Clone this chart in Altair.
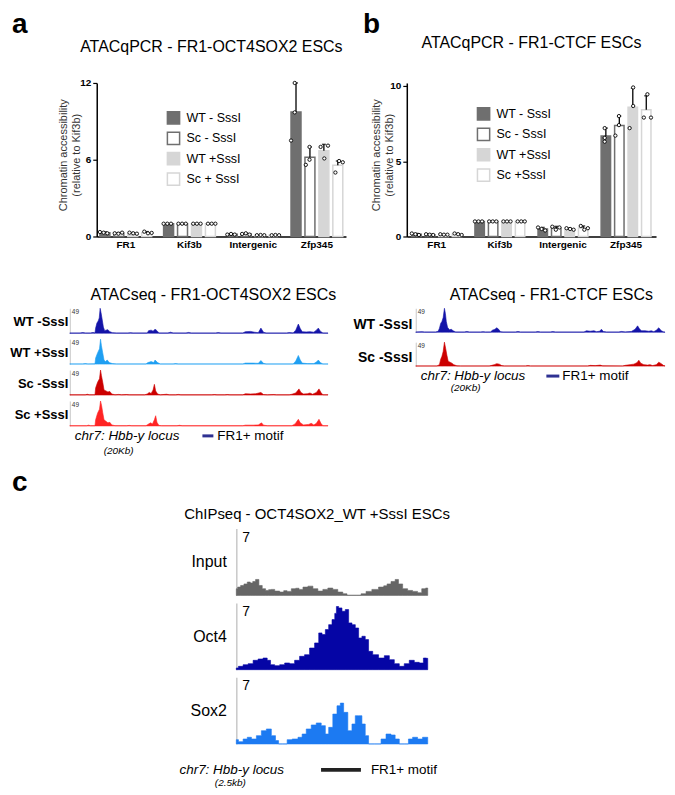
import altair as alt
import pandas as pd

FONT = "Liberation Sans"

# ---------------- ATAC-qPCR (panels a, b) ----------------
groups = ["FR1", "Kif3b", "Intergenic", "Zfp345"]
conds_a = ["WT - SssI", "Sc - SssI", "WT +SssI", "Sc + SssI"]
conds_b = ["WT - SssI", "Sc - SssI", "WT +SssI", "Sc +SssI"]
fill_range = ["#6f6f6f", "#ffffff", "#d6d6d6", "#ffffff"]
stroke_range = ["#6f6f6f", "#6f6f6f", "#d6d6d6", "#d6d6d6"]

mean_a = [[0.30, 0.26, 0.26, 0.30], [1.0, 1.0, 1.0, 1.0],
          [0.17, 0.20, 0.11, 0.11], [9.73, 6.20, 6.70, 5.57]]
upper_a = [[0.36, 0.30, 0.30, 0.38], [1.0, 1.0, 1.0, 1.0],
           [0.20, 0.25, 0.12, 0.12], [12.0, 7.0, 7.2, 5.9]]
reps_a = [[[0.35, 0.30, 0.25], [0.25, 0.22, 0.30], [0.30, 0.25, 0.22], [0.38, 0.25, 0.28]],
          [[1, 1, 1], [1, 1, 1], [1, 1, 1], [1, 1, 1]],
          [[0.15, 0.20, 0.15], [0.20, 0.25, 0.15], [0.10, 0.12, 0.10], [0.10, 0.12, 0.10]],
          [[12.0, 9.7, 7.5], [7.0, 6.0, 5.6], [7.0, 7.1, 6.1], [5.9, 5.8, 5.0]]]
slots_a = [[[0, 1, 2]] * 4, [[0, 1, 2]] * 4, [[0, 1, 2]] * 4,
           [[1, 1, 0], [1, 1, 0], [0, 2, 1], [1, 2, 0]]]

mean_b = [[0.15, 0.12, 0.13, 0.15], [1.0, 1.0, 1.0, 1.0],
          [0.50, 0.57, 0.50, 0.57], [6.67, 7.37, 8.59, 8.42]]
upper_b = [[0.20, 0.15, 0.15, 0.20], [1.0, 1.0, 1.0, 1.0],
           [0.60, 0.67, 0.55, 0.70], [7.2, 8.0, 9.85, 9.35]]
reps_b = [[[0.20, 0.15, 0.10], [0.15, 0.12, 0.10], [0.15, 0.12, 0.12], [0.20, 0.15, 0.10]],
          [[1, 1, 1], [1, 1, 1], [1, 1, 1], [1, 1, 1]],
          [[0.60, 0.50, 0.40], [0.65, 0.45, 0.60], [0.55, 0.50, 0.45], [0.70, 0.45, 0.55]],
          [[7.2, 6.55, 6.3], [8.0, 7.4, 6.7], [9.9, 8.67, 7.2], [9.45, 7.9, 7.9]]]
slots_b = [[[0, 1, 2]] * 4, [[0, 1, 2]] * 4, [[0, 1, 2]] * 4,
           [[1, 1, 1], [1, 1, 0], [1, 1, 0], [1, 0, 2]]]

# ---------------- ATAC-seq tracks: (position kb, signal) ----------------
atac_a_wt_minus = [(0, 0.4), (0.8, 0.4), (1.0, 1.2), (1.2, 0.4), (1.6, 0.4), (1.8, 1.5), (1.95, 0.5), (2.0, 10), (2.1, 20),
                   (2.2, 24), (2.28, 30), (2.35, 49), (2.42, 40), (2.5, 28), (2.6, 12), (2.7, 5), (2.8, 6), (2.95, 7),
                   (3.1, 3), (3.3, 1), (3.6, 0.4), (4.5, 0.4), (4.7, 1), (4.9, 0.4), (6.0, 0.5), (6.1, 5), (6.3, 6),
                   (6.45, 4), (6.6, 8), (6.75, 5), (6.9, 0.5), (7.6, 0.5), (7.8, 2), (8.0, 0.5), (9.0, 0.4), (9.2, 1.5),
                   (9.4, 0.4), (11.3, 0.4), (11.5, 1.2), (11.7, 0.4), (13.4, 0.4), (13.6, 3), (14.0, 3.5), (14.3, 2),
                   (14.6, 1), (14.8, 10), (15.0, 2), (15.2, 0.4), (16.8, 0.4), (17.0, 1.2), (17.3, 0.6), (17.5, 6),
                   (17.7, 18), (17.85, 9), (18.0, 3), (18.3, 2.5), (18.6, 3), (18.9, 2), (19.1, 6), (19.25, 10),
                   (19.4, 4), (19.6, 0.5), (20, 0.4)]
atac_a_wt_plus = [(0, 0.4), (1.0, 0.4), (1.2, 1), (1.4, 0.4), (1.95, 0.5), (2.0, 12), (2.15, 22), (2.3, 30), (2.38, 49),
                  (2.45, 36), (2.55, 22), (2.65, 8), (2.75, 5), (2.9, 8), (3.05, 3), (3.3, 1), (3.6, 0.4), (5.9, 0.4),
                  (6.05, 3), (6.3, 5), (6.5, 3), (6.6, 8), (6.8, 3), (7.0, 0.4), (8.0, 0.4), (8.2, 1), (8.4, 0.4),
                  (13.4, 0.4), (13.6, 2), (14.2, 2), (14.6, 1.5), (14.8, 7), (15.0, 1.5), (15.2, 0.4), (17.3, 0.4),
                  (17.5, 6), (17.7, 17), (17.85, 8), (18.0, 2), (18.4, 1), (18.9, 1), (19.1, 4), (19.25, 8), (19.4, 3),
                  (19.6, 0.4), (20, 0.4)]
atac_a_sc_minus = [(0, 0.4), (1.2, 0.4), (1.35, 1.5), (1.5, 0.4), (1.95, 0.5), (2.0, 14), (2.15, 25), (2.3, 32),
                   (2.38, 49), (2.45, 38), (2.55, 25), (2.65, 10), (2.8, 8), (2.95, 6), (3.1, 7), (3.25, 2), (3.5, 0.5),
                   (3.8, 1.2), (4.0, 0.4), (4.4, 1), (4.6, 0.4), (5.8, 0.4), (6.0, 2), (6.15, 5), (6.3, 3), (6.45, 10),
                   (6.55, 21), (6.65, 8), (6.8, 2), (7.0, 0.4), (7.5, 1.5), (7.7, 0.4), (8.2, 0.4), (8.4, 1.2),
                   (8.6, 0.4), (11.0, 0.4), (11.2, 1), (11.4, 0.4), (12.0, 0.4), (12.2, 1), (12.4, 0.4), (13.4, 0.4),
                   (13.6, 2.5), (14.0, 2), (14.4, 2.5), (14.8, 5), (15.0, 1), (15.3, 0.4), (15.8, 1), (16.0, 0.4),
                   (17.0, 0.4), (17.2, 1.5), (17.5, 4), (17.75, 12), (17.9, 5), (18.1, 2), (18.4, 2.5), (18.6, 4),
                   (18.8, 1.5), (19.1, 5), (19.3, 12), (19.45, 5), (19.6, 0.5), (20, 0.4)]
atac_a_sc_plus = [(0, 0.4), (1.3, 0.4), (1.45, 1.5), (1.6, 0.4), (1.95, 0.5), (2.0, 12), (2.15, 25), (2.3, 33),
                  (2.38, 49), (2.46, 40), (2.55, 26), (2.65, 12), (2.8, 9), (2.95, 6), (3.1, 7), (3.25, 2), (3.5, 0.5),
                  (4.4, 0.4), (4.6, 1), (4.8, 0.4), (5.9, 0.4), (6.05, 3), (6.25, 6), (6.4, 4), (6.55, 12), (6.65, 20),
                  (6.75, 7), (6.9, 1), (7.1, 0.4), (8.3, 0.4), (8.5, 1.2), (8.7, 0.4), (13.4, 0.4), (13.6, 1.5),
                  (14.2, 1.5), (14.6, 2), (14.85, 6), (15.0, 1.5), (15.3, 0.4), (17.2, 0.4), (17.45, 4), (17.7, 13),
                  (17.85, 6), (18.1, 2), (18.5, 3), (18.7, 5), (18.9, 2), (19.1, 5), (19.3, 13), (19.45, 5),
                  (19.6, 0.5), (20, 0.4)]
atac_b_wt_minus = [(0, 0.4), (0.5, 1), (0.7, 0.4), (1.6, 0.4), (1.8, 2), (1.9, 8), (2.0, 18), (2.1, 22), (2.2, 30),
                   (2.3, 49), (2.38, 38), (2.45, 22), (2.55, 10), (2.7, 5), (2.85, 6), (3.0, 3), (3.2, 0.5), (3.9, 0.4),
                   (4.1, 1.5), (4.3, 0.4), (5.2, 0.4), (5.4, 1), (5.6, 0.4), (6.0, 0.5), (6.15, 4), (6.35, 6), (6.5, 9),
                   (6.65, 6), (6.8, 1), (7.0, 0.4), (8.0, 0.4), (8.2, 1.5), (8.4, 0.4), (9.6, 0.4), (9.8, 1.2),
                   (10.0, 0.4), (10.8, 0.4), (11.0, 1.2), (11.2, 0.4), (13.5, 0.4), (13.7, 3), (14.0, 2), (14.3, 3),
                   (14.5, 1), (14.75, 2), (14.9, 6), (15.05, 1.5), (15.3, 0.4), (16.3, 0.4), (16.5, 1.5), (16.8, 0.6),
                   (17.3, 1.5), (17.6, 6), (17.8, 13), (17.95, 7), (18.1, 3), (18.4, 3), (18.7, 2), (18.9, 3),
                   (19.1, 1), (19.3, 4), (19.5, 9), (19.7, 3), (19.9, 0.5), (20, 0.4)]
atac_b_sc_minus = [(0, 0.4), (1.7, 0.4), (1.9, 3), (2.0, 14), (2.1, 20), (2.2, 30), (2.3, 49), (2.4, 36), (2.5, 22),
                   (2.6, 10), (2.75, 8), (2.9, 6), (3.05, 3), (3.3, 0.5), (3.6, 0.4), (5.9, 0.4), (6.1, 1.5), (6.3, 3),
                   (6.5, 5), (6.7, 4), (6.9, 1), (7.1, 0.4), (8.8, 0.4), (9.0, 1), (9.2, 0.4), (13.8, 0.4), (14.0, 1.5),
                   (14.4, 1), (14.8, 2), (15.0, 0.5), (16.6, 0.4), (16.8, 1.5), (17.2, 3), (17.5, 4), (17.75, 7),
                   (17.9, 12), (18.05, 6), (18.3, 3), (18.6, 2), (18.8, 3), (19.0, 1), (19.3, 3), (19.5, 8), (19.7, 5),
                   (19.9, 1), (20, 0.5)]

# ---------------- ChIP-seq tracks: (position bp, coverage) ----------------
chip_input = [(0, 0.7), (35, 0.87), (78, 1.04), (122, 1.2), (165, 1.4), (200, 1.3), (230, 1.46), (273, 1.67),
              (317, 1.04), (360, 0.7), (404, 0.52), (440, 0.6), (469, 0.63), (534, 0.45), (599, 0.35), (640, 0.5),
              (686, 0.42), (751, 0.7), (800, 0.75), (838, 0.63), (903, 0.87), (968, 0.97), (1033, 0.7), (1098, 0.45),
              (1163, 0.63), (1228, 0.77), (1293, 0.63), (1358, 0.35), (1424, 0.17), (1467, 0.02), (1532, 0.02),
              (1597, 0.02), (1662, 0.17), (1727, 0.42), (1814, 0.63), (1901, 0.87), (1950, 1.0), (1988, 1.2),
              (2053, 1.46), (2096, 1.67), (2140, 1.2), (2205, 0.7), (2270, 0.52), (2335, 0.42), (2400, 0.28),
              (2444, 0.7), (2500, 0.77)]
chip_oct4 = [(0, 0.18), (56, 0.35), (122, 0.52), (187, 0.63), (252, 0.98), (317, 1.12), (382, 1.22), (425, 0.98),
             (469, 0.52), (534, 0.42), (599, 0.52), (664, 0.7), (729, 0.63), (794, 0.98), (859, 1.4), (924, 1.57),
             (990, 2.27), (1055, 2.8), (1098, 3.85), (1141, 3.68), (1185, 4.2), (1228, 4.72), (1272, 5.25),
             (1300, 5.9), (1315, 6.62), (1358, 6.47), (1402, 6.12), (1445, 6.3), (1489, 4.9), (1532, 4.72),
             (1576, 4.37), (1619, 3.32), (1662, 3.5), (1706, 3.15), (1749, 1.92), (1814, 1.57), (1901, 1.22),
             (1966, 1.47), (2031, 1.05), (2096, 0.63), (2161, 0.35), (2226, 0.63), (2292, 0.98), (2357, 0.77),
             (2422, 0.7), (2465, 1.22), (2500, 1.19)]
chip_sox2 = [(0, 0.45), (56, 0.24), (122, 0.52), (165, 0.7), (230, 0.52), (295, 0.87), (360, 1.39), (425, 1.57),
             (490, 0.87), (534, 0.35), (570, 0.0), (642, 0.0), (686, 0.45), (773, 0.52), (838, 0.7), (881, 1.04),
             (946, 1.57), (1011, 1.99), (1077, 2.2), (1141, 1.92), (1185, 1.04), (1228, 1.74), (1293, 3.13),
             (1337, 4.0), (1380, 4.28), (1424, 3.31), (1489, 1.39), (1532, 2.09), (1576, 2.96), (1619, 2.96),
             (1662, 2.09), (1706, 0.87), (1749, 0.0), (1858, 0.0), (1923, 0.52), (1988, 1.04), (2053, 0.94),
             (2096, 0.52), (2161, 0.0), (2226, 0.0), (2270, 0.52), (2335, 0.7), (2400, 0.52), (2465, 0.7),
             (2500, 0.7)]

one = pd.DataFrame({"k": [0]})


def txt(s, x, y, size, weight="normal", style="normal", align="left", baseline="middle", color="black"):
    return alt.Chart(one).mark_text(text=s, fontSize=size, fontWeight=weight, fontStyle=style, align=align,
                                    baseline=baseline, color=color, font=FONT).encode(
        x=alt.value(x), y=alt.value(y))


def key_bar(x1, x2, y, color, w):
    return alt.Chart(one).mark_rule(color=color, strokeWidth=w).encode(
        x=alt.value(x1), x2=alt.value(x2), y=alt.value(y))


def spacer():
    # invisible 1px view: anchors the column origin so each row can be offset on its own
    return alt.Chart(one).mark_rule(strokeWidth=0, opacity=0).encode(
        x=alt.value(0), x2=alt.value(0), y=alt.value(0), y2=alt.value(0)).properties(width=1, height=1)


def bar_panel(conds, means, uppers, reps, slots, ymax, yticks, width, height, pad_inner, pad_outer, bar_pad,
              legend_y, ytitle_x, ytitle_y, extras):
    rows_b, rows_e, rows_p = [], [], []
    for gi, g in enumerate(groups):
        for ci, c in enumerate(conds):
            rows_b.append({"group": g, "cond": c, "mean": means[gi][ci]})
            if uppers[gi][ci] > means[gi][ci] + 0.02:
                rows_e.append({"group": g, "cond": c, "mean": means[gi][ci], "upper": uppers[gi][ci]})
            for v, s in zip(reps[gi][ci], slots[gi][ci]):
                rows_p.append({"group": g, "slot": f"{ci}_{s}", "value": v})
    slot_domain = []
    for ci in range(4):
        slot_domain += [f"{ci}_{s}" for s in range(3)]
        if ci < 3:
            slot_domain.append(f"gap{ci}")
    xs = alt.Scale(domain=groups, paddingInner=pad_inner, paddingOuter=pad_outer)
    ys = alt.Scale(domain=[0, ymax], nice=False)
    xaxis = alt.Axis(title=None, labelAngle=0, labelFontWeight="bold", labelFontSize=10, labelColor="black",
                     labelPadding=3, ticks=False, domainColor="black", domainWidth=1.5, labelFont=FONT)
    yaxis = alt.Axis(values=yticks, grid=False, tickSize=4, tickColor="black", tickWidth=1.2, domainColor="black",
                     domainWidth=1.5, labelFontSize=10, labelFontWeight="bold", labelColor="black", labelPadding=2,
                     labelFont=FONT, title=["Chromatin accessibility", "(relative to Kif3b)"], titleFontSize=11,
                     titleFontWeight="normal", titleColor="#333333", titleFont=FONT, titleAngle=270,
                     titleAlign="center", titleBaseline="alphabetic", titleLineHeight=13, titleX=ytitle_x,
                     titleY=ytitle_y)
    offs = alt.Scale(domain=conds, paddingInner=bar_pad, paddingOuter=0)
    leg = alt.Legend(title=None, orient="none", legendX=70, legendY=legend_y, symbolType="square",
                     symbolSize=150, symbolStrokeWidth=1.5, labelFontSize=12.5, labelFont=FONT,
                     labelColor="black", rowPadding=0.5, labelOffset=6, padding=0)
    x_enc = alt.X("group:N", scale=xs, axis=xaxis)
    bars = alt.Chart(pd.DataFrame(rows_b)).mark_bar(strokeWidth=1.5).encode(
        x=x_enc,
        xOffset=alt.XOffset("cond:N", scale=offs),
        y=alt.Y("mean:Q", scale=ys, axis=yaxis),
        fill=alt.Fill("cond:N", scale=alt.Scale(domain=conds, range=fill_range), legend=leg),
        stroke=alt.Stroke("cond:N", scale=alt.Scale(domain=conds, range=stroke_range), legend=leg),
    )
    df_e = pd.DataFrame(rows_e)
    err = alt.Chart(df_e).mark_rule(color="black", strokeWidth=1.3).encode(
        x=x_enc, xOffset=alt.XOffset("cond:N", scale=offs),
        y=alt.Y("mean:Q", scale=ys, axis=yaxis), y2="upper:Q")
    cap = alt.Chart(df_e).mark_tick(color="black", thickness=1.5, size=4).encode(
        x=x_enc, xOffset=alt.XOffset("cond:N", scale=offs),
        y=alt.Y("upper:Q", scale=ys, axis=yaxis))
    pts = alt.Chart(pd.DataFrame(rows_p)).mark_point(shape="circle", filled=True, fill="white", stroke="black",
                                                      strokeWidth=0.9, size=11, opacity=1).encode(
        x=x_enc,
        xOffset=alt.XOffset("slot:N", scale=alt.Scale(domain=slot_domain, paddingInner=0, paddingOuter=0)),
        y=alt.Y("value:Q", scale=ys, axis=yaxis))
    return alt.layer(bars, err, cap, pts, *extras).resolve_scale(xOffset="independent").properties(
        width=width, height=height)


def track(points, color, label, lab_size, lab_weight, lab_x, lab_dy, width, height, xmax, ymax, interp, domain_w,
          yfield, extras):
    df = pd.DataFrame(points, columns=["pos", yfield])
    area = alt.Chart(df).mark_area(color=color, interpolate=interp, stroke=color, strokeWidth=0.6).encode(
        x=alt.X("pos:Q", scale=alt.Scale(domain=[0, xmax], nice=False, zero=False), axis=None),
        y=alt.Y(f"{yfield}:Q", scale=alt.Scale(domain=[0, ymax], nice=False),
                axis=alt.Axis(ticks=False, labels=False, grid=False, domainColor="#c8c8c8", domainWidth=domain_w,
                              title=label, titleAngle=0, titleAlign="right", titleBaseline="middle",
                              titleX=lab_x, titleY=height / 2 + lab_dy, titleFontSize=lab_size,
                              titleFontWeight=lab_weight, titleFont=FONT, titleColor="black")),
    )
    return alt.layer(area, *extras).properties(width=width, height=height)


IND = dict(x="independent", y="independent")

# ---- row 1 ----
barA = bar_panel(conds_a, mean_a, upper_a, reps_a, slots_a, 12, [0, 6, 12], 250, 154, 0.1875, 0.05, 0.2857,
                 28, -30, 72,
                 [txt("ATACqPCR - FR1-OCT4SOX2 ESCs", 115, -36, 16, align="center"),
                  txt("a", -85, -50, 28, weight="bold", baseline="alphabetic")])
barB = bar_panel(conds_b, mean_b, upper_b, reps_b, slots_b, 10.2, [0, 5, 10], 250, 154, 0.21, 0.08, 0.3,
                 24, -27, 72,
                 [txt("ATACqPCR - FR1-CTCF ESCs", 125, -40, 16, align="center"),
                  txt("b", -44, -50, 28, weight="bold", baseline="alphabetic")])
bars_row = alt.hconcat(barA, barB, spacing=16).resolve_scale(
    x="independent", y="independent", fill="independent", stroke="independent", xOffset="independent")
row1 = alt.hconcat(spacer(), bars_row, spacing=3).resolve_scale(**IND)

# ---- row 2 ----
A_W, A_H = 259, 25
tA = [
    track(atac_a_wt_minus, "#1414a8", "WT -SssI", 13, "bold", -2, 1, A_W, A_H, 20, 49, "linear", 1, "sig",
          [txt("49", 2, 4, 6.5, color="#333333"),
           txt("ATACseq - FR1-OCT4SOX2 ESCs", 144, -13, 16, align="center")]),
    track(atac_a_wt_plus, "#1f9ff2", "WT +SssI", 13, "bold", -2, 1, A_W, A_H, 20, 49, "linear", 1, "sig",
          [txt("49", 2, 4, 6.5, color="#333333")]),
    track(atac_a_sc_minus, "#cc0000", "Sc -SssI", 13, "bold", -2, 1, A_W, A_H, 20, 49, "linear", 1, "sig",
          [txt("49", 2, 4, 6.5, color="#333333")]),
    track(atac_a_sc_plus, "#ff2424", "Sc +SssI", 13, "bold", -2, 1, A_W, A_H, 20, 49, "linear", 1, "sig",
          [txt("49", 2, 4, 6.5, color="#333333"),
           txt("chr7: Hbb-y locus", 5, 35, 13.5, style="italic"),
           txt("(20Kb)", 49, 50, 10, style="italic", align="center"),
           key_bar(133, 144, 35, "#2e3192", 3),
           txt("FR1+ motif", 148, 35, 13.5)]),
]
atacA = alt.vconcat(*tA, spacing=2).resolve_scale(**IND)

B_W, B_H = 250, 24
tB = [
    track(atac_b_wt_minus, "#1414a8", "WT -SssI", 14, "bold", -4, 4, B_W, B_H, 20, 49, "linear", 1, "sig",
          [txt("49", 2, 4, 6.5, color="#333333"),
           txt("ATACseq - FR1-CTCF ESCs", 136, -13, 16, align="center")]),
    track(atac_b_sc_minus, "#cc0000", "Sc -SssI", 14, "bold", -4, 3, B_W, B_H, 20, 49, "linear", 1, "sig",
          [txt("49", 2, 4, 6.5, color="#333333"),
           txt("chr7: Hbb-y locus", 5, 34, 13.5, style="italic"),
           txt("(20Kb)", 50, 46, 10, style="italic", align="center"),
           key_bar(131, 144, 34, "#2e3192", 3),
           txt("FR1+ motif", 147, 34, 13.5)]),
]
atacB = alt.vconcat(*tB, spacing=6).resolve_scale(**IND)
atac_row = alt.hconcat(atacA, atacB, spacing=15).resolve_scale(**IND)
row2 = alt.hconcat(spacer(), atac_row, spacing=0).resolve_scale(**IND)

# ---- row 3 (panel c) ----
C_W, C_H = 192, 67
tC = [
    track(chip_input, "#666666", "Input", 16, "normal", -10, 0, C_W, C_H, 2500, 7, "step", 1.5, "cov",
          [txt("7", 6, 9, 14),
           txt("ChIPseq - OCT4SOX2_WT +SssI ESCs", 81, -15, 15, align="center"),
           txt("c", -225, -38, 28, weight="bold", baseline="alphabetic")]),
    track(chip_oct4, "#0505a5", "Oct4", 16, "normal", -10, 0, C_W, C_H, 2500, 7, "step", 1.5, "cov",
          [txt("7", 6, 9, 14)]),
    track(chip_sox2, "#1c7af2", "Sox2", 16, "normal", -10, 0, C_W, C_H, 2500, 7, "step", 1.5, "cov",
          [txt("7", 6, 9, 14),
           txt("chr7: Hbb-y locus", -57, 93, 13.5, style="italic"),
           txt("(2.5kb)", -6, 106, 10, style="italic", align="center"),
           key_bar(85, 125, 93, "#222222", 4),
           txt("FR1+ motif", 135, 93, 13.5)]),
]
panelC = alt.vconcat(*tC, spacing=5.5).resolve_scale(**IND)
row3 = alt.hconcat(spacer(), panelC, spacing=3).resolve_scale(**IND)

top12 = alt.vconcat(row1, row2, spacing=38).resolve_scale(**IND)
chart = alt.vconcat(top12, row3, spacing=13).resolve_scale(**IND).properties(
    padding={"left": 0, "top": 2, "right": 0, "bottom": 0}
).configure(font=FONT).configure_view(stroke=None)

chart.save("out.html", embed_options={"renderer": "svg", "actions": False})
